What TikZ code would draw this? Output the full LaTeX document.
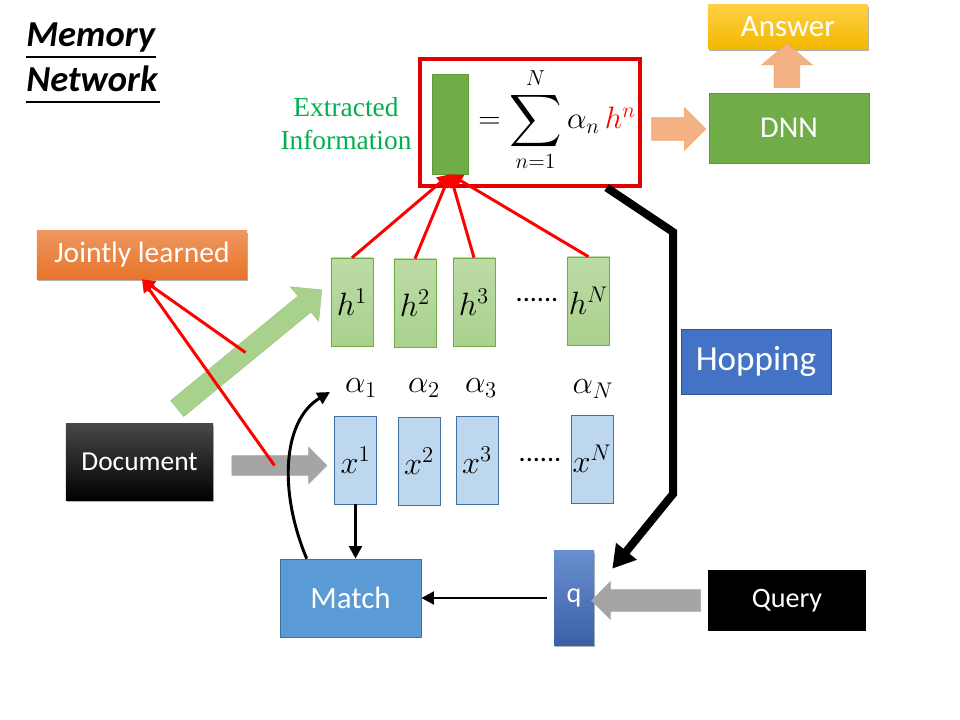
\RequirePackage{fix-cm}
\documentclass[tikz,border=0pt]{standalone}
\usepackage{amsmath}
\usepackage{fontspec}
\usepackage{graphicx}
\setmainfont{Carlito}
\newfontfamily\serifx{Liberation Serif}
\usetikzlibrary{shapes.arrows, arrows.meta, positioning, calc, shadows}
\definecolor{hgreen}{HTML}{A9D18E}
\definecolor{hgreenl}{HTML}{BCDCA6}
\definecolor{dgreen}{HTML}{70AD47}
\definecolor{dgborder}{HTML}{5E9A3A}
\definecolor{xblue}{HTML}{BDD7EE}
\definecolor{xborder}{HTML}{41719C}
\definecolor{mblue}{HTML}{5B9BD5}
\definecolor{hblue}{HTML}{4472C4}
\definecolor{hbborder}{HTML}{2F528F}
\definecolor{cgold}{HTML}{F2B800}
\definecolor{lgold}{HTML}{FFD044}
\definecolor{corange}{HTML}{E8742A}
\definecolor{lorange}{HTML}{F4B183}
\definecolor{cgray}{HTML}{A5A5A5}
\definecolor{cred}{HTML}{FF0000}
\definecolor{boxred}{HTML}{E00000}
\definecolor{txtgreen}{HTML}{00B050}
\newcommand{\bigsum}{\mathop{\vcenter{\hbox{\scalebox{1.25}{$\displaystyle\sum$}}}}\limits}

\begin{document}
\begin{tikzpicture}[x=0.025cm, y=-0.025cm,
    cell/.style={draw=#1, minimum width=1.05cm, minimum height=2.2cm, inner sep=0pt, font=\fontsize{23}{27}\selectfont},
    hcell/.style={cell=dgreen, top color=hgreenl, bottom color=hgreen},
    xcell/.style={cell=xborder, fill=xblue},
    wbox/.style={text=white, inner sep=0pt, align=center, font=\fontsize{#1}{26}\selectfont},
    soft/.style={drop shadow={shadow xshift=1pt, shadow yshift=-1.5pt, opacity=0.3, fill=black}},
    redline/.style={draw=cred, line width=2.1pt, -{Triangle[length=9pt, width=9pt]}},
    blackline/.style={line width=2.1pt, -{Triangle[length=9pt, width=9pt]}},
    blockarrow/.style={single arrow, draw=#1, inner xsep=0pt, single arrow tip angle=90},
]
\useasboundingbox (0,0) rectangle (960,720);

% title
\node[anchor=base west, inner sep=0pt, font=\fontsize{26}{30}\selectfont\bfseries\itshape] (mem) at (26,47) {Memory};
\node[anchor=base west, inner sep=0pt, font=\fontsize{26}{30}\selectfont\bfseries\itshape] (net) at (26,92) {Network};
\draw[line width=0.9pt] (26,57) -- (156,57);
\draw[line width=0.9pt] (26,102) -- (160,102);

% extracted information
\node[draw=boxred, line width=2.2pt, minimum width=5.5cm, minimum height=3.175cm] (info) at (530,122.5) {};
\node[draw=dgborder, fill=dgreen, minimum width=0.9cm, minimum height=2.5cm] (ext) at (450,124) {};
\node[font=\fontsize{22}{26}\selectfont, inner sep=0pt] (sum) at (557,120) {$=\bigsum_{n=1}^{N}\alpha_n\,{\color{cred}h^n}$};
\node[font=\serifx\fontsize{19.5}{23.5}\selectfont, text=txtgreen, align=center] (extlab) at (346,124) {Extracted\\Information};

% output side
\node[wbox=21.5, draw=dgborder, fill=dgreen, minimum width=4cm, minimum height=1.75cm] (dnn) at (789,128) {DNN};
\node[wbox=22, soft, top color=lgold, bottom color=cgold, minimum width=4cm, minimum height=1.1cm] (ans) at (788,27) {Answer};
\node[blockarrow=lorange!80!corange, fill=lorange, inner ysep=0.275cm, minimum height=1.35cm, minimum width=1.05cm, single arrow head extend=0.25cm] (oarr) at (673,129) {};
\node[blockarrow=lorange!80!corange, fill=lorange, rotate=90, inner ysep=0.3125cm, minimum height=1.1cm, minimum width=1.25cm, single arrow head extend=0.3125cm, single arrow tip angle=100] (uarr) at (787,71) {};

% memory cells
\foreach \n/\x/\y in {1/352/302, 2/415/303, 3/474/302, N/588.5/301}
  \node[hcell] (h\n) at (\x,\y) {$h^{\n}$};
\foreach \n/\x/\y in {1/355.5/460, 2/419/461, 3/477/460, N/592/459}
  \node[xcell] (x\n) at (\x,\y) {$x^{\n}$};
\foreach \n/\x/\y in {1/361/388, 2/424/388, 3/481/388, N/593/389}
  \node[font=\fontsize{23}{27}\selectfont, inner sep=0pt] (a\n) at (\x,\y) {$\alpha_{\n}$};
\node[font=\fontsize{20}{24}\selectfont, inner sep=0pt] (hdots) at (537,300) {......};
\node[font=\fontsize{20}{24}\selectfont, inner sep=0pt] (xdots) at (540,460) {......};

% input side
\node[wbox=21, soft, top color=corange!75!white, bottom color=corange, minimum width=5.25cm, minimum height=1.2cm] (jl) at (142,255) {Jointly learned};
\node[wbox=19.5, soft, top color=black!72, middle color=black, bottom color=black, minimum width=3.675cm, minimum height=1.9cm] (doc) at (139.5,462) {Document};
\node[blockarrow=cgray, fill=cgray, inner ysep=0.2375cm, minimum height=2.375cm, minimum width=0.9cm, single arrow head extend=0.2125cm] (darr) at (274.5,465.5) {};
\node[blockarrow=hgreen!80!dgreen, fill=hgreen, rotate=39.4, inner ysep=0.25cm, minimum height=4.675cm, minimum width=1.1cm, single arrow head extend=0.3cm] (garr) at (245.5,352.5) {};

% query side
\node[wbox=22, draw=xborder, fill=mblue, minimum width=3.525cm, minimum height=1.95cm] (match) at (350.5,598) {Match};
\node[wbox=20, soft, top color=hblue!80!white, bottom color=hblue!85!black, minimum width=1cm, minimum height=2.35cm] (q) at (574,598) {q};
\node[wbox=20, fill=black, minimum width=3.95cm, minimum height=1.525cm] (query) at (787,600.5) {Query};
\node[blockarrow=cgray, fill=cgray, rotate=180, inner ysep=0.2625cm, minimum height=2.725cm, minimum width=0.925cm, single arrow head extend=0.2cm] (qarr) at (651.5,600.5) {};
\node[wbox=25, draw=hbborder, fill=hblue, minimum width=3.75cm, minimum height=1.625cm] (hop) at (756,361.5) {Hopping};

% connectors
\foreach \n in {1,2,3,N}
  \draw[redline] (h\n.north) -- (ext.south);
\draw[redline] (garr.center) -- (jl.south);
\draw[redline] (darr.center) -- (jl.south);
\draw[blackline] (x1.south) -- (x1.south |- match.north);
\draw[blackline, shorten <=5pt] (q.west) -- (match.east);
\coordinate (a1in) at (330,392);
\draw[blackline] ([xshift=0.675cm]match.north west) .. controls (278,490) and (283,420) .. (a1in);
\draw[line width=5.7pt, -{Triangle[length=16pt, width=18pt]}] ([xshift=-0.875cm]info.south east) -- (673,232) -- (673,494) -- ([xshift=0.45cm, yshift=-0.45cm]q.north east);

\end{tikzpicture}
\end{document}
